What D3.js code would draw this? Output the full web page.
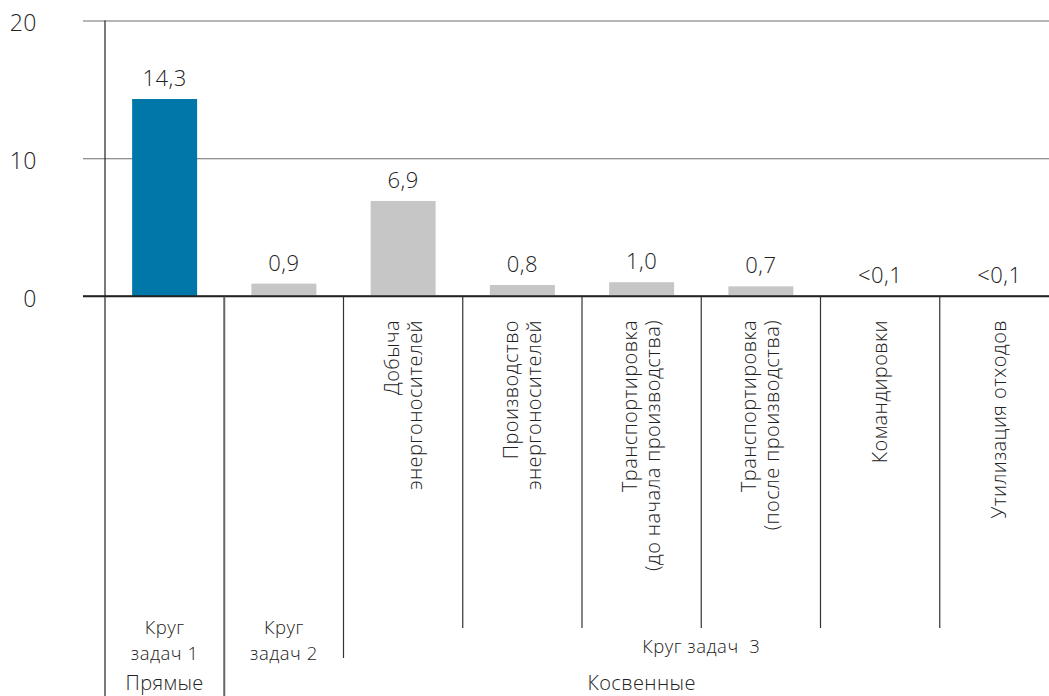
<!DOCTYPE html>
<html>
<head>
<meta charset="utf-8">
<script src="https://cdn.jsdelivr.net/npm/d3@7"></script>
<style>
  html, body { margin: 0; padding: 0; background: #fff; }
  svg text { font-family: "Open Sans", "Noto Sans", sans-serif; font-weight: 300; fill: #222; }
</style>
</head>
<body>
<div id="chartRoot"></div>
<script>
// values
var catLabels = [
    [],
    [],
    ["Добыча", "энергоносителей"],
    ["Производство", "энергоносителей"],
    ["Транспортировка", "(до начала производства)"],
    ["Транспортировка", "(после производства)"],
    ["Командировки"],
    ["Утилизация отходов"]
];
var values = [14.3, 0.9, 6.9, 0.8, 1.0, 0.7, 0, 0];
var valueLabels = ["14,3", "0,9", "6,9", "0,8", "1,0", "0,7", "<0,1", "<0,1"];
var scopes = ["1", "2", "3", "3", "3", "3", "3", "3"];
var scopeLabels = { "1": ["Круг", "задач 1"], "2": ["Круг", "задач 2"], "3": ["Круг задач  3"] };
var kinds = ["Прямые", "Косвенные", "Косвенные", "Косвенные", "Косвенные", "Косвенные", "Косвенные", "Косвенные"];
var yTicks = [0, 10, 20];

window.onload = function() {
    makeChart(1049, 696);
};

function makeChart(width, height) {
    var svg = d3.select("#chartRoot").append("svg")
        .attr("width", width)
        .attr("height", height);

    var idx = d3.range(values.length);

    var x = d3.scaleBand()
        .domain(idx)
        .range([105, 1059]);
    var bw = x.bandwidth();
    var barW = bw * 0.545;

    var y = d3.scaleLinear()
        .domain([0, 20])
        .range([296, 20.5]);

    // horizontal grid lines + tick labels
    var yAxis = d3.axisLeft(y)
        .tickValues(yTicks)
        .tickSize(-(width - 83))
        .tickPadding(46)
        .tickFormat(d3.format("d"));

    var gy = svg.append("g")
        .attr("transform", "translate(83,0)")
        .call(yAxis);
    gy.select(".domain").remove();
    gy.selectAll(".tick line")
        .attr("stroke", function(d) { return d == 0 ? "#222" : "#6e6e6e"; })
        .attr("stroke-width", function(d) { return d == 0 ? 1.6 : 1.2; });
    gy.selectAll(".tick text")
        .attr("font-size", 23)
        .attr("dy", "0.45em")
        .attr("fill", "#222")
        .style("font-family", '"Open Sans", "Noto Sans", sans-serif')
        .style("font-weight", 300)
        .style("letter-spacing", "0.5px");

    // vertical axis line
    svg.append("line")
        .attr("x1", x(0)).attr("x2", x(0))
        .attr("y1", y(20)).attr("y2", height)
        .attr("stroke", "#333").attr("stroke-width", 1.3);

    // separators between categories, length depends on grouping level
    for (var i = 1; i < values.length; i++) {
        var bottom = 628;
        if (kinds[i] != kinds[i - 1]) {
            bottom = height;
        } else if (scopes[i] != scopes[i - 1]) {
            bottom = 658;
        }
        svg.append("line")
            .attr("x1", x(i)).attr("x2", x(i))
            .attr("y1", y(0)).attr("y2", bottom)
            .attr("stroke", kinds[i] != kinds[i - 1] ? "#666" : "#333")
            .attr("stroke-width", kinds[i] != kinds[i - 1] ? 2 : 1.2);
    }

    // bars
    svg.selectAll(".bar")
        .data(idx)
        .enter().append("rect")
        .attr("class", "bar")
        .attr("x", function(d) { return x(d) + (bw - barW) / 2; })
        .attr("width", barW)
        .attr("y", function(d) { return y(values[d]); })
        .attr("height", function(d) { return y(0) - y(values[d]); })
        .attr("fill", function(d) { return scopes[d] == "1" ? "#0077a8" : "#c6c6c6"; });

    // redraw zero line on top of bars
    svg.append("line")
        .attr("x1", 83).attr("x2", width)
        .attr("y1", y(0)).attr("y2", y(0))
        .attr("stroke", "#222").attr("stroke-width", 1.6);

    // value labels
    svg.selectAll(".vlabel")
        .data(idx)
        .enter().append("text")
        .attr("class", "vlabel")
        .attr("x", function(d) { return x(d) + bw / 2; })
        .attr("y", function(d) { return y(values[d]) - 13; })
        .attr("text-anchor", "middle")
        .attr("font-size", 22)
        .style("letter-spacing", "0.5px")
        .text(function(d) { return valueLabels[d]; });

    // rotated category labels
    var cat = svg.selectAll(".cat")
        .data(idx)
        .enter().append("text")
        .attr("class", "cat")
        .attr("transform", function(d) { return "translate(" + (x(d) + bw / 2) + ",320) rotate(-90)"; })
        .attr("text-anchor", "end")
        .attr("font-size", 20)
        .style("letter-spacing", "0.4px");
    cat.each(function(d) {
        var lines = catLabels[d];
        var t = d3.select(this);
        for (var j = 0; j < lines.length; j++) {
            t.append("tspan")
                .attr("x", 0)
                .attr("y", 7 + (j - (lines.length - 1) / 2) * 23)
                .text(lines[j]);
        }
    });

    // scope group labels ("Круг задач"), one text per line
    var scopeNames = [];
    scopes.forEach(function(s) { if (scopeNames.indexOf(s) == -1) scopeNames.push(s); });
    scopeNames.forEach(function(s) {
        var members = idx.filter(function(i) { return scopes[i] == s; });
        var cx = (x(members[0]) + x(members[members.length - 1]) + bw) / 2;
        var lines = scopeLabels[s];
        for (var j = 0; j < lines.length; j++) {
            svg.append("text")
                .attr("x", cx)
                .attr("y", lines.length == 1 ? 653 : 634 + j * 25.5)
                .attr("text-anchor", "middle")
                .attr("font-size", 18.5)
                .style("letter-spacing", "0.5px")
                .style("white-space", "pre")
                .text(lines[j]);
        }
    });

    // direct / indirect labels
    var kindNames = [];
    kinds.forEach(function(k) { if (kindNames.indexOf(k) == -1) kindNames.push(k); });
    kindNames.forEach(function(k) {
        var members = idx.filter(function(i) { return kinds[i] == k; });
        var cx = (x(members[0]) + x(members[members.length - 1]) + bw) / 2;
        svg.append("text")
            .attr("x", cx)
            .attr("y", 690)
            .attr("text-anchor", "middle")
            .attr("font-size", 20)
            .style("letter-spacing", "0.4px")
            .text(k);
    });
}
</script>
</body>
</html>
